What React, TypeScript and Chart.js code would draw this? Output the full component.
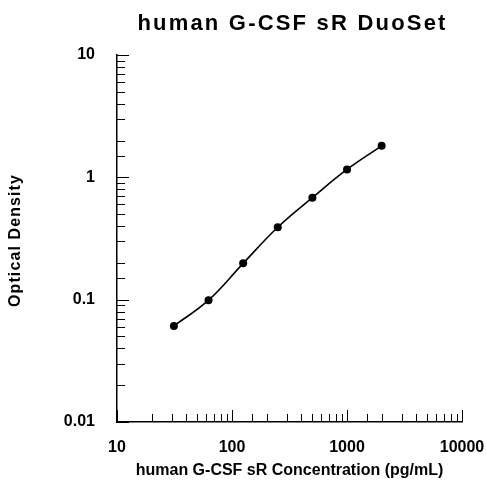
import React, { useEffect, useRef } from "react";
import { Chart, registerables } from "chart.js";

Chart.register(...registerables);

const TITLE = "human G-CSF sR DuoSet";
const X_TITLE = "human G-CSF sR Concentration (pg/mL)";
const Y_TITLE = "Optical Density";
const concentrations = [31.25, 62.5, 125, 250, 500, 1000, 2000];
const opticalDensity = [0.061, 0.099, 0.198, 0.391, 0.682, 1.16, 1.81];
const X_MIN = 10;
const X_MAX = 10000;
const Y_MIN = 0.01;
const Y_MAX = 10;

const FONT = "'Liberation Sans', Arial, Helvetica, sans-serif";

const isDecade = (v: number) => {
  const l = Math.log10(v);
  return Math.abs(l - Math.round(l)) < 1e-9;
};

const tickPlugin = {
  id: "insideTicks",
  afterDraw(chart: any) {
    const ctx = chart.ctx;
    const xs = chart.scales.x;
    const ys = chart.scales.y;
    ctx.save();
    ctx.strokeStyle = "#000";
    ctx.lineWidth = 1;
    ctx.beginPath();
    xs.ticks.forEach((t: any) => {
      const p = Math.round(xs.getPixelForValue(t.value)) + 0.5;
      const len = isDecade(t.value) ? 12 : 8;
      ctx.moveTo(p, xs.top);
      ctx.lineTo(p, xs.top - len);
    });
    ys.ticks.forEach((t: any) => {
      const p = Math.round(ys.getPixelForValue(t.value)) + 0.5;
      const len = isDecade(t.value) ? 12 : 8;
      ctx.moveTo(ys.right, p);
      ctx.lineTo(ys.right + len, p);
    });
    ctx.stroke();
    const area = chart.chartArea;
    ctx.fillStyle = "#000";
    ctx.textAlign = "center";
    // chart title
    ctx.font = `bold 22px ${FONT}`;
    (ctx as any).letterSpacing = "2.2px";
    ctx.textBaseline = "alphabetic";
    ctx.fillText(TITLE, (area.left + area.right) / 2 + 3, 30);
    // y axis title
    ctx.font = `bold 16px ${FONT}`;
    (ctx as any).letterSpacing = "1.1px";
    ctx.textBaseline = "middle";
    ctx.translate(16, (area.top + area.bottom) / 2 + 2);
    ctx.rotate(-Math.PI / 2);
    ctx.fillText(Y_TITLE, 0, 0);
    ctx.restore();
  },
};

export default function App() {
  const ref = useRef<HTMLCanvasElement | null>(null);
  useEffect(() => {
    document.body.style.margin = "0";
    if (!ref.current) return;
    const chart = new Chart(ref.current, {
      type: "line",
      data: {
        datasets: [
          {
            data: concentrations.map((c, i) => ({ x: c, y: opticalDensity[i] })),
            borderColor: "#000",
            backgroundColor: "#000",
            borderWidth: 1.6,
            pointRadius: 4,
            pointBackgroundColor: "#000",
            pointBorderWidth: 0,
            tension: 0.4,
            fill: false,
          },
        ],
      },
      options: {
        animation: false,
        responsive: false,
        layout: { padding: { top: 55, right: 25, left: 0, bottom: 0 } },
        plugins: {
          legend: { display: false },
          title: { display: false },
          tooltip: { enabled: false },
        },
        scales: {
          x: {
            type: "logarithmic",
            min: X_MIN,
            max: X_MAX,
            grid: { display: false, drawTicks: false },
            border: { display: true, color: "#000", width: 1.5 },
            afterFit: (s: any) => {
              s.height = 62;
              s.paddingLeft = 0;
              s.paddingRight = 0;
            },
            ticks: {
              autoSkip: false,
              maxRotation: 0,
              padding: 16,
              color: "#000",
              font: { family: FONT, size: 16, weight: "bold" },
              callback: (v: any) => (isDecade(Number(v)) ? String(Number(v)) : ""),
            },
            title: {
              display: true,
              text: X_TITLE,
              color: "#000",
              font: { family: FONT, size: 16, weight: "bold" },
              padding: { top: 0, bottom: 4 },
            },
          },
          y: {
            type: "logarithmic",
            min: Y_MIN,
            max: Y_MAX,
            grid: { display: false, drawTicks: false },
            border: { display: true, color: "#000", width: 1.5 },
            afterFit: (s: any) => {
              s.width = 117;
              s.paddingTop = 0;
              s.paddingBottom = 0;
            },
            ticks: {
              autoSkip: false,
              padding: 22,
              color: "#000",
              font: { family: FONT, size: 16, weight: "bold" },
              callback: (v: any) => (isDecade(Number(v)) ? String(Number(v)) : ""),
            },
            title: { display: false },
          },
        },
      },
      plugins: [tickPlugin],
    });
    return () => chart.destroy();
  }, []);
  return (
    <div style={{ width: 487, height: 484 }}>
      <canvas ref={ref} width={487} height={484} />
    </div>
  );
}
